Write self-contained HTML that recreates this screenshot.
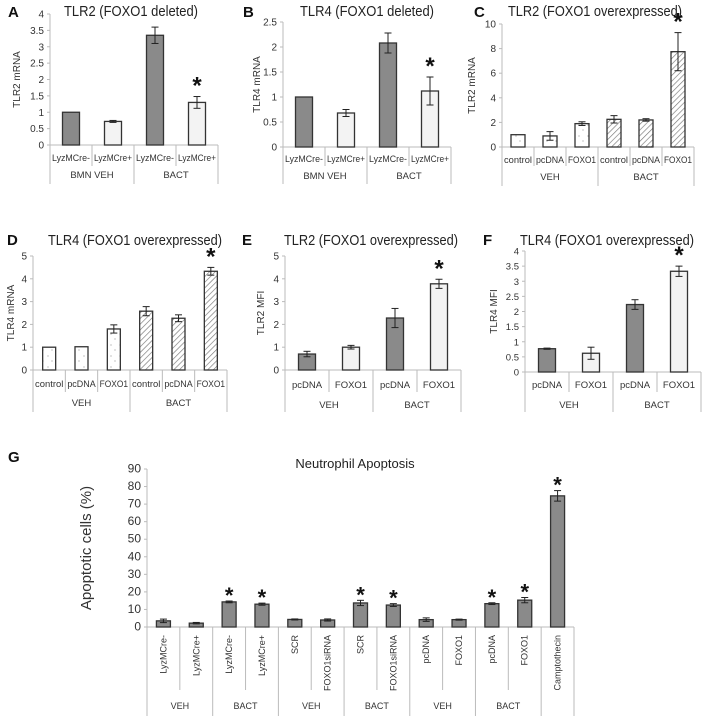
<!DOCTYPE html>
<html><head><meta charset="utf-8"><style>
html,body{margin:0;padding:0;background:#fff;}
svg{display:block;font-family:"Liberation Sans",sans-serif;}
</style></head><body>
<svg id="fig" width="708" height="716" viewBox="0 0 708 716" xmlns="http://www.w3.org/2000/svg">
<defs>
<pattern id="hatch" width="4" height="4" patternUnits="userSpaceOnUse" patternTransform="rotate(45)"><rect width="4" height="4" fill="#fff"/><line x1="0" y1="0" x2="0" y2="4" stroke="#777" stroke-width="1.3"/></pattern>
<pattern id="dots" width="9" height="11" patternUnits="userSpaceOnUse"><rect width="9" height="11" fill="#fff"/><circle cx="3" cy="4" r="0.6" fill="#999"/><circle cx="7" cy="9" r="0.6" fill="#999"/></pattern>
</defs>
<g id="root"></g>
</svg>
<script>
// Panel A
const aCats=["LyzMCre-","LyzMCre+","LyzMCre-","LyzMCre+"];
const aVals=[1,0.72,3.35,1.3];
const aErrs=[0,0.03,0.25,0.18];
const aTicks=[0,0.5,1,1.5,2,2.5,3,3.5,4];
// Panel B
const bCats=["LyzMCre-","LyzMCre+","LyzMCre-","LyzMCre+"];
const bVals=[1,0.68,2.08,1.12];
const bErrs=[0,0.07,0.2,0.28];
const bTicks=[0,0.5,1,1.5,2,2.5];
// Panel C
const cCats=["control","pcDNA","FOXO1","control","pcDNA","FOXO1"];
const cVals=[1,0.9,1.9,2.25,2.2,7.75];
const cErrs=[0,0.35,0.15,0.3,0.1,1.55];
const cTicks=[0,2,4,6,8,10];
// Panel D
const dCats=["control","pcDNA","FOXO1","control","pcDNA","FOXO1"];
const dVals=[1,1.02,1.8,2.58,2.27,4.33];
const dErrs=[0,0,0.18,0.2,0.15,0.17];
const dTicks=[0,1,2,3,4,5];
// Panel E
const eCats=["pcDNA","FOXO1","pcDNA","FOXO1"];
const eVals=[0.7,1.0,2.28,3.78];
const eErrs=[0.12,0.08,0.42,0.2];
const eTicks=[0,1,2,3,4,5];
// Panel F
const fCats=["pcDNA","FOXO1","pcDNA","FOXO1"];
const fVals=[0.77,0.62,2.23,3.33];
const fErrs=[0.02,0.2,0.16,0.17];
const fTicks=[0,0.5,1,1.5,2,2.5,3,3.5,4];
// Panel G
const gCats=["LyzMCre-","LyzMCre+","LyzMCre-","LyzMCre+","SCR","FOXO1siRNA","SCR","FOXO1siRNA","pcDNA","FOXO1","pcDNA","FOXO1","Camptothecin"];
const gVals=[3.5,2.2,14.3,13,4.3,4,13.7,12.5,4.2,4.2,13.3,15.3,74.7];
const gErrs=[1,0.4,0.5,0.6,0.3,0.6,1.5,0.8,1,0.3,0.5,1.5,3];
const gTicks=[0,10,20,30,40,50,60,70,80,90];

const NS="http://www.w3.org/2000/svg";
const root=document.getElementById('root');
function mk(tag,attrs,parent,text){const e=document.createElementNS(NS,tag);for(const k in attrs)e.setAttribute(k,attrs[k]);if(text!==undefined)e.textContent=text;(parent||root).appendChild(e);return e;}
function fit(el,maxW){try{const w=el.getComputedTextLength();if(w>maxW){el.setAttribute('textLength',maxW);el.setAttribute('lengthAdjust','spacingAndGlyphs');}}catch(e){}}
function setW(el,w){el.setAttribute('textLength',w);el.setAttribute('lengthAdjust','spacingAndGlyphs');}

function panel(p){
  const g=mk('g',{});
  
  
  const ymax=p.ticks[p.ticks.length-1];
  const ys=v=>p.y0-(v/ymax)*(p.y0-p.yTop);
  const n=p.cats.length, cw=(p.x1-p.x0)/n;
  const xc=i=>p.x0+cw*(i+0.5);
  const L=mk('text',{x:p.lx,y:p.ly,'font-size':15,'font-weight':'bold',fill:'#111'},g,p.letter);
  
  
  const t=mk('text',{x:p.tx,y:p.ty,'font-size':p.tfs||15,'text-anchor':'middle',fill:'#222'},g,p.title);
  
  
  if(p.tw)setW(t,p.tw);
  const yt=mk('text',{x:0,y:0,'font-size':p.yfs||10,'text-anchor':'middle',fill:'#333',transform:`translate(${p.ytx},${(p.y0+p.yTop)/2}) rotate(-90)`},g,p.ytitle);
  
  
  const ax=mk('line',{x1:p.x0,y1:p.yTop,x2:p.x0,y2:p.y0,stroke:'#bbb'},g);
  
  
  p.ticks.forEach(tv=>{
    mk('line',{x1:p.x0-3,y1:ys(tv),x2:p.x0,y2:ys(tv),stroke:'#bbb'},g);
    const tl=mk('text',{x:p.x0-6,y:ys(tv)+3.5,'font-size':p.tkfs||10,'text-anchor':'end',fill:'#333'},g,String(tv));
    
    
  });
  const xa=mk('line',{x1:p.x0,y1:p.y0,x2:p.x1,y2:p.y0,stroke:'#bbb'},g);
  
  
  const full=new Set([0,n]);let acc=0;p.groups.forEach(gr=>{acc+=gr[1];full.add(acc);});
  for(let i=0;i<=n;i++){
    mk('line',{x1:p.x0+cw*i,y1:p.y0,x2:p.x0+cw*i,y2:full.has(i)?p.yEnd:p.yMid,stroke:'#bbb'},g);
  }
  p.vals.forEach((v,i)=>{
    const f=p.fills[i];
    const fill=f==='g'?'#8a8a8a':f==='l'?'#f3f3f3':f==='h'?'url(#hatch)':'url(#dots)';
    const b=mk('rect',{x:xc(i)-p.bw/2,y:ys(v),width:p.bw,height:p.y0-ys(v),fill:fill,stroke:'#333','stroke-width':1.3},g);
    
    
    const e=p.errs[i];
    if(e>0){
      mk('line',{x1:xc(i),y1:ys(v+e),x2:xc(i),y2:ys(v-e),stroke:'#222'},g);
      mk('line',{x1:xc(i)-3.5,y1:ys(v+e),x2:xc(i)+3.5,y2:ys(v+e),stroke:'#222'},g);
      mk('line',{x1:xc(i)-3.5,y1:ys(v-e),x2:xc(i)+3.5,y2:ys(v-e),stroke:'#222'},g);
    }
    if(p.stars.includes(i)){
      const s=mk('text',{x:xc(i),y:ys(v+e)+(p.starOff!==undefined?p.starOff:-3),'font-size':p.sfs||24,'text-anchor':'middle','font-weight':'bold',fill:'#111'},g,'*');
      
      
    }
    let cl;
    if(p.rot){cl=mk('text',{x:0,y:0,'font-size':p.cfs||9,'text-anchor':'end',fill:'#333',transform:`translate(${xc(i)+3},${p.yLab}) rotate(-90)`},g,p.cats[i]);fit(cl,56);}
    else{cl=mk('text',{x:xc(i),y:p.yLab,'font-size':p.cfs||9.5,'text-anchor':'middle',fill:'#333'},g,p.cats[i]);fit(cl,cw-4);}
    
    
  });
  acc=0;
  p.groups.forEach(gr=>{
    const cx=p.x0+cw*(acc+gr[1]/2);acc+=gr[1];
    if(!gr[0])return;
    const gl=mk('text',{x:cx,y:p.yGrp,'font-size':p.cfs||9.5,'text-anchor':'middle',fill:'#333','xml:space':'preserve'},g,gr[0]);
    
    
  });
}

panel({name:'panel-a',letter:'A',lx:8,ly:17,title:'TLR2 (FOXO1 deleted)',tx:131,ty:16,tw:134,ytitle:'TLR2 mRNA',ytx:20,
  x0:50,x1:218,y0:145,yTop:14,ticks:aTicks,cats:aCats,vals:aVals,errs:aErrs,fills:['g','l','g','l'],stars:[3],
  groups:[['BMN   VEH',2],['BACT',2]],bw:17,yMid:166,yEnd:184,yLab:161,yGrp:178});
panel({name:'panel-b',letter:'B',lx:243,ly:17,title:'TLR4 (FOXO1 deleted)',tx:367,ty:16,tw:134,ytitle:'TLR4 mRNA',ytx:260,
  x0:283,x1:451,y0:147,yTop:22,ticks:bTicks,cats:bCats,vals:bVals,errs:bErrs,fills:['g','l','g','l'],stars:[3],
  groups:[['BMN   VEH',2],['BACT',2]],bw:17,yMid:166,yEnd:184,yLab:162,yGrp:179});
panel({name:'panel-c',letter:'C',lx:474,ly:17,title:'TLR2 (FOXO1 overexpressed)',tx:595,ty:16,tw:174,ytitle:'TLR2 mRNA',ytx:475,
  x0:502,x1:694,y0:147,yTop:24,ticks:cTicks,cats:cCats,vals:cVals,errs:cErrs,fills:['d','d','d','h','h','h'],stars:[5],
  groups:[['VEH',3],['BACT',3]],bw:14,yMid:166,yEnd:186,yLab:163,yGrp:180});
panel({name:'panel-d',letter:'D',lx:7,ly:245,title:'TLR4 (FOXO1 overexpressed)',tx:135,ty:245,tw:174,ytitle:'TLR4 mRNA',ytx:14,
  x0:33,x1:227,y0:370,yTop:256,ticks:dTicks,cats:dCats,vals:dVals,errs:dErrs,fills:['d','d','d','h','h','h'],stars:[5],
  groups:[['VEH',3],['BACT',3]],bw:13,yMid:392,yEnd:412,yLab:387,yGrp:406});
panel({name:'panel-e',letter:'E',lx:242,ly:245,title:'TLR2 (FOXO1 overexpressed)',tx:371,ty:245,tw:174,ytitle:'TLR2 MFI',ytx:264,
  x0:285,x1:461,y0:370,yTop:256,ticks:eTicks,cats:eCats,vals:eVals,errs:eErrs,fills:['g','l','g','l'],stars:[3],
  groups:[['VEH',2],['BACT',2]],bw:17,yMid:392,yEnd:412,yLab:388,yGrp:408});
panel({name:'panel-f',letter:'F',lx:483,ly:245,title:'TLR4 (FOXO1 overexpressed)',tx:607,ty:245,tw:174,ytitle:'TLR4 MFI',ytx:497,tkfs:9.5,
  x0:525,x1:701,y0:372,yTop:251,ticks:fTicks,cats:fCats,vals:fVals,errs:fErrs,fills:['g','l','g','l'],stars:[3],
  groups:[['VEH',2],['BACT',2]],bw:17,yMid:392,yEnd:412,yLab:388,yGrp:408});
panel({name:'panel-g',letter:'G',lx:8,ly:462,title:'Neutrophil Apoptosis',tx:355,ty:468,tfs:13,ytitle:'Apoptotic cells (%)',ytx:91,yfs:15,tkfs:12,
  x0:147,x1:574,y0:627,yTop:469,ticks:gTicks,cats:gCats,vals:gVals,errs:gErrs,fills:Array(13).fill('g'),stars:[2,3,6,7,10,11,12],
  groups:[['VEH',2],['BACT',2],['VEH',2],['BACT',2],['VEH',2],['BACT',2],['',1]],bw:14,yMid:690,yEnd:716,yLab:635,yGrp:709,rot:true,cfs:9,starOff:2,sfs:22});
</script>
</body></html>
